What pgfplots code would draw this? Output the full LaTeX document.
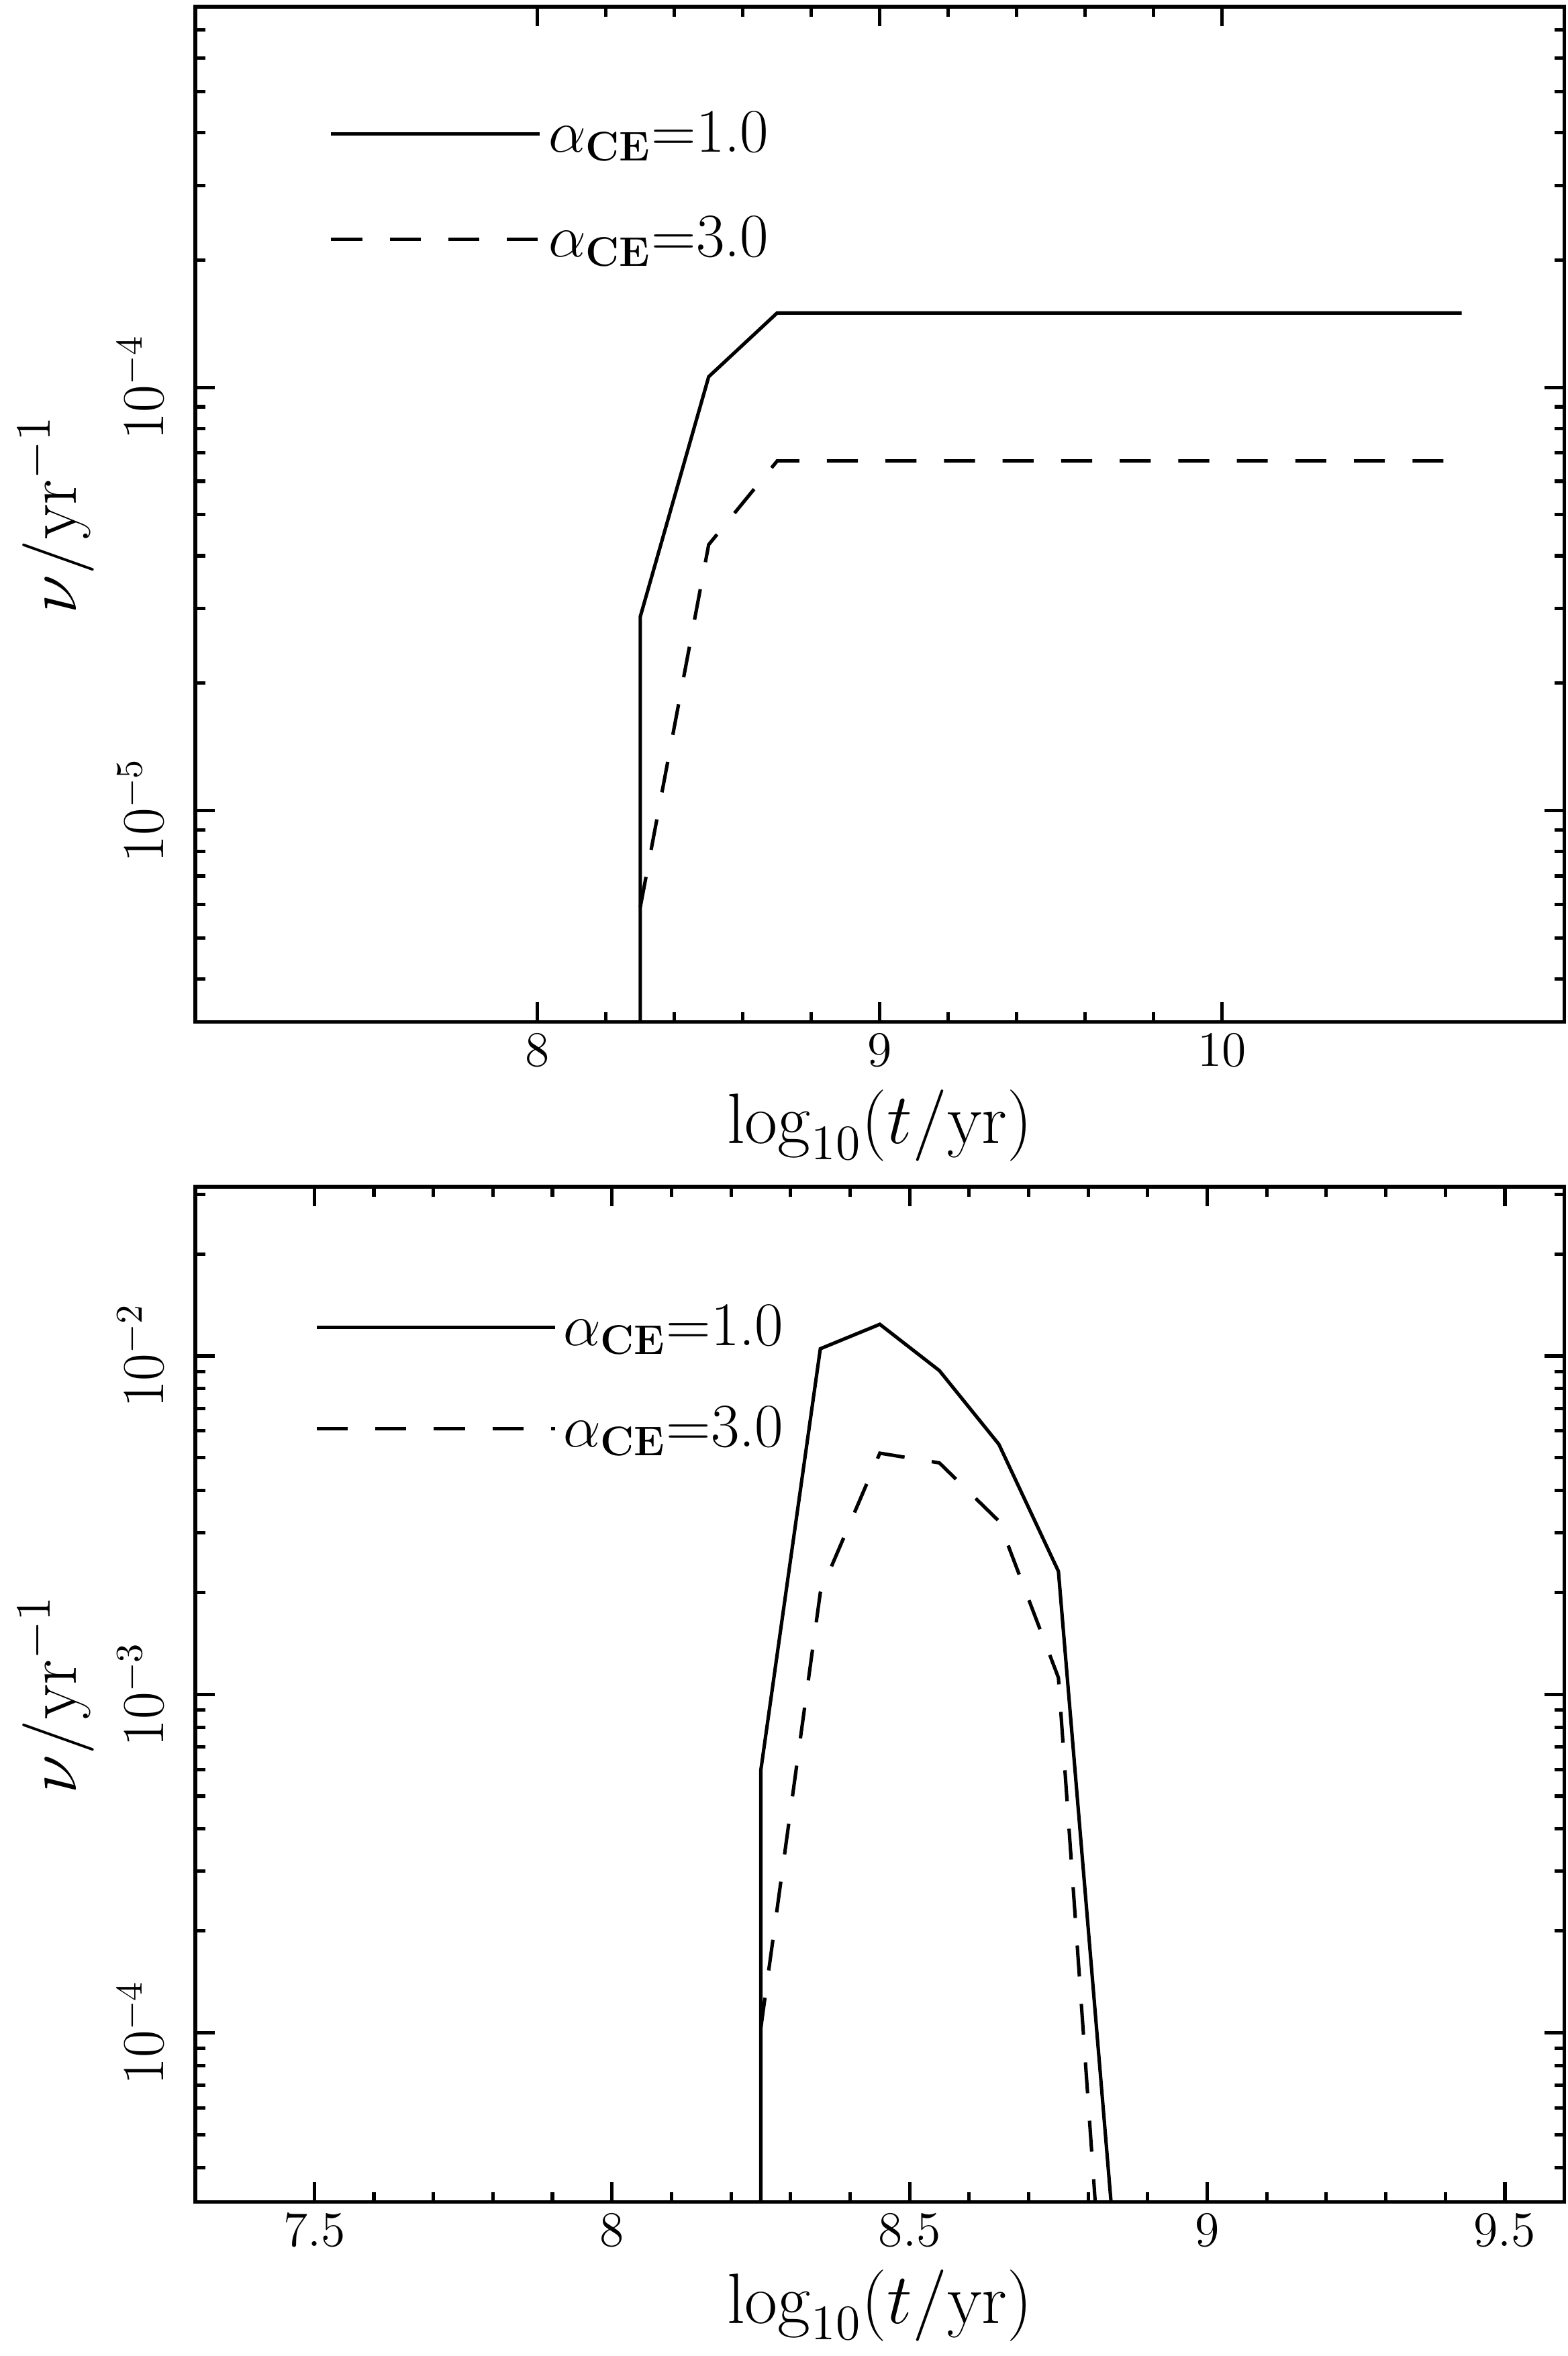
\documentclass[border=0pt]{standalone}
\usepackage{pgfplots}
\pgfplotsset{compat=1.18}

% solid: alpha_CE = 1.0, dashed: alpha_CE = 3.0
\pgfplotstableread{
x y
8.3 1e-9
8.3 2.87e-5
8.5 1.06e-4
8.7 1.50e-4
8.9 1.50e-4
9.1 1.50e-4
9.3 1.50e-4
9.5 1.50e-4
9.7 1.50e-4
9.9 1.50e-4
10.1 1.50e-4
10.3 1.50e-4
10.5 1.50e-4
10.7 1.50e-4
}\topone
\pgfplotstableread{
x y
8.3 5.9e-6
8.5 4.25e-5
8.7 6.7e-5
8.9 6.7e-5
9.1 6.7e-5
9.3 6.7e-5
9.5 6.7e-5
9.7 6.7e-5
9.9 6.7e-5
10.1 6.7e-5
10.3 6.7e-5
10.5 6.7e-5
10.7 6.7e-5
}\topthree
\pgfplotstableread{
x y
8.25 1e-9
8.25 5.96e-4
8.35 1.05e-2
8.45 1.24e-2
8.55 9.05e-3
8.65 5.48e-3
8.75 2.31e-3
8.85 1.8e-5
}\botone
\pgfplotstableread{
x y
8.25 1.03e-4
8.35 2.0e-3
8.45 5.16e-3
8.55 4.83e-3
8.65 3.25e-3
8.75 1.12e-3
8.85 3.5e-6
}\botthree

\tikzset{
  solidc/.style={black, line width=1pt},
  dashc/.style={black, line width=1pt, dash pattern=on 9pt off 8pt},
}

\begin{document}
\begin{tikzpicture}
\useasboundingbox (-1.993,0.068) rectangle (14.007,-23.973);

\begin{axis}[at={(0,0)}, anchor=north west,
  scale only axis, width=13.97cm, height=10.36cm,
  ymode=log,
  axis line style={line width=1.1pt},
  tick align=inside, xtick pos=both, ytick pos=both,
  major tick length=0.2cm, minor tick length=0.1cm,
  every tick/.style={black, line width=1pt},
  xticklabel style={font=\fontsize{14}{16}\selectfont},
  yticklabel style={font=\fontsize{16}{18}\selectfont, rotate=90, anchor=south},
  yticklabel shift=0.2cm,
  label style={font=\fontsize{20}{24}\selectfont},
  xlabel={$\log_{10}(t/\mathrm{yr})$},
  ylabel={$\nu/\mathrm{yr}^{-1}$},
  legend style={draw=none, fill=none, inner sep=0pt,
    font=\fontsize{18}{22}\selectfont, row sep=0.46cm,
    at={(axis cs:7.39,2.985e-4)}, anchor=west},
  legend cell align=left,
  legend image code/.code={\draw[#1] (0cm,0cm) -- (2.13cm,0cm);},
  xmin=7, xmax=11, ymin=3.1623e-6, ymax=7.9433e-4,
  xtick={8,9,10}, minor x tick num=4,
]
\addplot[solidc] table {\topone};
\addlegendentry{$\alpha_{\mathbf{CE}}$=1.0}
\addplot[dashc] table {\topthree};
\addlegendentry{$\alpha_{\mathbf{CE}}$=3.0}
\end{axis}

\begin{axis}[at={(0,-12.041cm)}, anchor=north west,
  scale only axis, width=13.97cm, height=10.36cm,
  ymode=log,
  axis line style={line width=1.1pt},
  tick align=inside, xtick pos=both, ytick pos=both,
  major tick length=0.2cm, minor tick length=0.1cm,
  every tick/.style={black, line width=1pt},
  xticklabel style={font=\fontsize{14}{16}\selectfont},
  yticklabel style={font=\fontsize{16}{18}\selectfont, rotate=90, anchor=south},
  yticklabel shift=0.2cm,
  label style={font=\fontsize{20}{24}\selectfont},
  xlabel={$\log_{10}(t/\mathrm{yr})$},
  ylabel={$\nu/\mathrm{yr}^{-1}$},
  legend style={draw=none, fill=none, inner sep=0pt,
    font=\fontsize{18}{22}\selectfont, row sep=0.42cm,
    at={(axis cs:7.5,8.6e-3)}, anchor=west},
  legend cell align=left,
  legend image code/.code={\draw[#1] (0cm,0cm) -- (2.43cm,0cm);},
  xmin=7.3, xmax=9.6, ymin=3.1623e-5, ymax=3.1623e-2,
  xtick={7.5,8,8.5,9,9.5}, minor x tick num=4,
]
\addplot[solidc] table {\botone};
\addlegendentry{$\alpha_{\mathbf{CE}}$=1.0}
\addplot[dashc] table {\botthree};
\addlegendentry{$\alpha_{\mathbf{CE}}$=3.0}
\end{axis}
\end{tikzpicture}
\end{document}
